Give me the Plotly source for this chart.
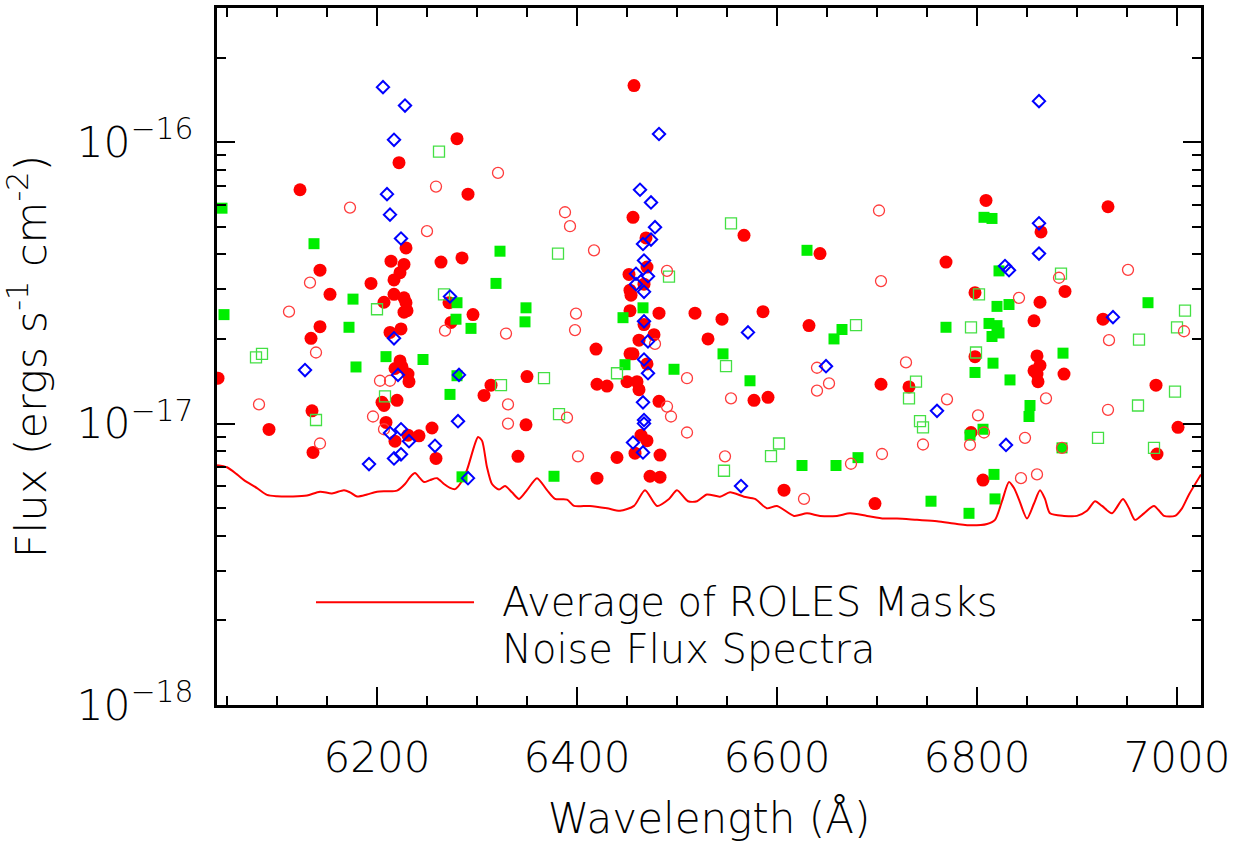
import numpy as np
import plotly.graph_objects as go

FLUX_UNIT = 1e-17  # flux values below are in units of 1e-17 ergs s^-1 cm^-2

# Average noise spectrum of the ROLES masks
spec_wl = [6040, 6050, 6060, 6067, 6080, 6090, 6100, 6116, 6130, 6143,
           6155, 6167, 6173, 6180, 6190, 6200, 6210, 6220, 6228, 6233,
           6238, 6243, 6247, 6253, 6260, 6267, 6273, 6278, 6283, 6290,
           6297, 6301, 6305, 6310, 6315, 6322, 6328, 6335, 6342, 6350,
           6360, 6370, 6378, 6390, 6397, 6413, 6430, 6443, 6457, 6468,
           6480, 6492, 6500, 6511, 6520, 6530, 6543, 6553, 6567, 6578,
           6590, 6600, 6617, 6630, 6643, 6660, 6673, 6690, 6707, 6720,
           6740, 6760, 6780, 6795, 6810, 6818, 6825, 6832, 6837, 6842,
           6850, 6857, 6863, 6868, 6873, 6887, 6900, 6910, 6918, 6925,
           6935, 6946, 6952, 6958, 6967, 6977, 6987, 6998, 7005, 7012,
           7024]
spec_flux = [0.712, 0.70, 0.66, 0.63, 0.59, 0.558, 0.552, 0.551, 0.555, 0.573,
             0.565, 0.58, 0.57, 0.551, 0.56, 0.573, 0.575, 0.578, 0.61, 0.645,
             0.667, 0.64, 0.62, 0.63, 0.64, 0.61, 0.591, 0.585, 0.61, 0.685,
             0.827, 0.897, 0.87, 0.70, 0.61, 0.583, 0.60, 0.57, 0.54, 0.58,
             0.64, 0.58, 0.54, 0.537, 0.51, 0.51, 0.50, 0.49, 0.51, 0.58,
             0.51, 0.54, 0.58, 0.53, 0.53, 0.56, 0.55, 0.57, 0.55, 0.54,
             0.50, 0.51, 0.47, 0.48, 0.47, 0.47, 0.48, 0.47, 0.46, 0.46,
             0.455, 0.45, 0.44, 0.435, 0.44, 0.455, 0.53, 0.62, 0.59, 0.537,
             0.46, 0.52, 0.58, 0.54, 0.48, 0.47, 0.47, 0.49, 0.53, 0.51,
             0.48, 0.54, 0.50, 0.455, 0.48, 0.51, 0.47, 0.47, 0.50, 0.56,
             0.66]

# Filled red circles
fc_wl = [6280, 6222, 6123, 6229, 6214, 6227, 6264, 6285, 6223, 6143,
         6194, 6217, 6153, 6217, 6227, 6229, 6230, 6227, 6207, 6272,
         6143, 6224, 6213, 6134, 6274, 6223, 6218, 6225, 6231, 6232,
         6041, 6220, 6205, 6207, 6135, 6209, 6092, 6231, 6242, 6255,
         6218, 6136, 6259,
         6457, 6291, 6456, 6469,
         6470, 6452, 6467, 6453, 6454, 6296, 6453, 6482, 6477, 6462,
         6419, 6453, 6456, 6470, 6350, 6314, 6307, 6420, 6430, 6450,
         6460, 6462, 6482, 6349, 6464, 6470, 6458, 6440, 6483, 6341,
         6420, 6473, 6483, 6467,
         6567, 6643, 6518, 6545, 6586, 6531, 6632, 6577, 6591, 6704,
         6732, 6607, 6698,
         6809, 6931, 6864, 6769, 6798, 6888, 6863, 6857, 6926, 6860,
         6798, 6863, 6857, 6860, 6861, 6887, 6979, 7001, 6794, 6980,
         6806]
fc_flux = [10.3, 8.46, 6.78, 4.21, 3.78, 3.68, 3.75, 3.88, 3.44, 3.51,
           3.15, 3.24, 2.88, 2.88, 2.80, 2.69, 2.52, 2.49, 2.70, 2.69,
           2.21, 2.17, 2.11, 2.01, 2.29, 1.67, 1.57, 1.59, 1.50, 1.41,
           1.45, 1.21, 1.19, 1.16, 1.11, 1.01, 0.954, 0.91, 0.905, 0.965,
           0.866, 0.79, 0.752,
           15.9, 6.54, 5.41, 4.57,
           3.60, 3.39, 3.13, 2.98, 2.86, 2.44, 2.52, 2.47, 2.07, 1.98,
           1.84, 1.77, 1.77, 1.63, 1.47, 1.37, 1.26, 1.38, 1.36, 1.41,
           1.41, 1.32, 1.20, 0.99, 0.91, 0.87, 0.785, 0.758, 0.773, 0.765,
           0.64, 0.65, 0.645, 2.25,
           4.67, 4.02, 2.47, 2.35, 2.50, 2.00, 2.23, 1.21, 1.24, 1.38,
           1.35, 0.58, 0.52,
           6.21, 5.90, 4.80, 3.75, 2.92, 2.95, 2.70, 2.32, 2.35, 1.74,
           1.73, 1.61, 1.54, 1.50, 1.41, 1.50, 1.37, 0.97, 0.93, 0.78,
           0.63]

# Open red circles
oc_wl = [6259, 6173, 6250,
         6133, 6112, 6268, 6139, 6203, 6213, 6082, 6196, 6207, 6143,
         6321, 6388, 6393, 6417,
         6490, 6329, 6399, 6398, 6478, 6510, 6490, 6494, 6331, 6331,
         6390, 6510, 6401,
         6702, 6704, 6640, 6729, 6652, 6640, 6554, 6746, 6548, 6674,
         6705, 6627,
         6882, 6951, 6842, 7007, 6932, 6770, 6869, 6931, 6801, 6807,
         6793, 6848, 6885, 6844, 6860]
oc_flux = [6.96, 5.86, 4.83,
           3.17, 2.50, 2.14, 1.79, 1.42, 1.42, 1.17, 1.06, 0.955, 0.85,
           7.78, 5.64, 5.03, 4.13,
           3.49, 2.09, 2.46, 2.15, 1.92, 1.45, 1.15, 1.06, 1.17, 1.00,
           1.05, 0.93, 0.765,
           5.72, 3.21, 1.58, 1.65, 1.39, 1.31, 1.23, 0.843, 0.765, 0.72,
           0.78, 0.54,
           3.30, 3.52, 2.80, 2.13, 1.98, 1.22, 1.23, 1.12, 1.07, 0.93,
           0.84, 0.89, 0.82, 0.64, 0.66]

# Filled green squares
fs_wl = [6045, 6137,
         6176, 6280, 6047, 6172, 6279, 6209, 6246, 6179, 6280, 6273,
         6323,
         6319, 6349, 6348, 6294, 6446, 6466, 6448, 6497, 6285, 6377,
         6630, 6665, 6657, 6546, 6573, 6625, 6659, 6681, 6754,
         6807, 6815, 6822, 6820, 6832, 6971, 6769, 6812, 6820, 6822,
         6815, 6886, 6816, 6798, 6833, 6853, 6852, 6806, 6793, 6885,
         6817, 6818, 6792]
fs_flux = [5.83, 4.36,
           2.77, 2.69, 2.44, 2.20, 2.35, 1.73, 1.69, 1.59, 1.48, 1.27,
           4.10,
           3.15, 2.58, 2.30, 2.18, 2.38, 2.58, 1.62, 1.56, 0.647, 0.65,
           4.13, 2.16, 2.00, 1.77, 1.42, 0.71, 0.71, 0.757, 0.53,
           5.41, 5.36, 3.49, 2.61, 2.65, 2.69, 2.20, 2.27, 2.23, 2.10,
           2.04, 1.78, 1.64, 1.52, 1.43, 1.16, 1.06, 0.955, 0.91, 0.82,
           0.66, 0.54, 0.48]

# Open green squares
os_wl = [6262,
         6200, 6267, 6085, 6079, 6208, 6139,
         6381,
         6492, 6440, 6367, 6324, 6382,
         6554, 6679, 6549, 6739, 6732, 6743, 6746, 6602, 6594, 6547,
         6884, 6802, 7008, 6794, 7000, 6962, 6799, 6998, 6961, 6921,
         6977]
os_flux = [9.26,
           2.55, 2.88, 1.77, 1.72, 1.25, 1.03,
           4.02,
           3.33, 1.51, 1.45, 1.37, 1.08,
           5.15, 2.24, 1.60, 1.41, 1.23, 1.02, 0.97, 0.85, 0.766, 0.68,
           3.41, 2.88, 2.52, 2.20, 2.20, 1.99, 1.79, 1.30, 1.16, 0.89,
           0.82]

# Open blue diamonds
od_wl = [6206, 6228, 6217, 6210, 6213, 6224,
         6273, 6217, 6221, 6128, 6282, 6281, 6213, 6224, 6232, 6258,
         6217, 6224, 6192,
         6482, 6463, 6474, 6478, 6474, 6466, 6467,
         6459, 6471, 6459, 6467, 6467, 6471, 6467, 6471, 6466, 6467,
         6467, 6456, 6466, 6291,
         6571, 6649, 6760, 6564,
         6862, 6862, 6862, 6828, 6832, 6936, 6829]
od_flux = [15.7, 13.5, 10.2, 6.54, 5.53, 4.55,
           2.83, 2.01, 1.49, 1.55, 1.49, 1.02, 0.926, 0.955, 0.866, 0.834,
           0.752, 0.778, 0.718,
           10.7, 6.78, 6.11, 4.99, 4.51, 4.35, 3.80,
           3.41, 3.34, 3.13, 2.94, 2.31, 1.96, 1.69, 1.51, 1.19, 1.03,
           1.00, 0.857, 0.79, 0.64,
           2.11, 1.60, 1.11, 0.60,
           14.0, 5.15, 4.02, 3.63, 3.51, 2.39, 0.84]

x_range = [6040, 7024]
y_range = [1e-18, 3e-16]
legend_lines = ["Average of ROLES Masks", "Noise Flux Spectra"]


def scale(v):
    return [f * FLUX_UNIT for f in v]


def font(size):
    return dict(family="DejaVu Sans", size=size, color="black", weight=200)


fig = go.Figure()
fig.add_trace(go.Scatter(x=spec_wl, y=scale(spec_flux), mode="lines",
                         line=dict(color="#ff0000", width=2, shape="spline", smoothing=0.7),
                         showlegend=False, hoverinfo="skip"))
fig.add_trace(go.Scatter(x=fc_wl, y=scale(fc_flux), mode="markers",
                         marker=dict(symbol="circle", size=13, color="#ff0000",
                                     line=dict(width=0)), showlegend=False))
fig.add_trace(go.Scatter(x=fs_wl, y=scale(fs_flux), mode="markers",
                         marker=dict(symbol="square", size=11, color="#00ee00",
                                     line=dict(width=0)), showlegend=False))
fig.add_trace(go.Scatter(x=os_wl, y=scale(os_flux), mode="markers",
                         marker=dict(symbol="square-open", size=11, color="#44e044",
                                     line=dict(width=1.3, color="#44e044")),
                         showlegend=False))
fig.add_trace(go.Scatter(x=oc_wl, y=scale(oc_flux), mode="markers",
                         marker=dict(symbol="circle-open", size=11, color="#ff3c3c",
                                     line=dict(width=1.3, color="#ff3c3c")),
                         showlegend=False))
fig.add_trace(go.Scatter(x=od_wl, y=scale(od_flux), mode="markers",
                         marker=dict(symbol="diamond-open", size=9.5, color="#0000ff",
                                     line=dict(width=2, color="#0000ff")),
                         showlegend=False))

axis_common = dict(
    showline=True, linecolor="black", linewidth=2.5, mirror="allticks",
    ticks="inside", ticklen=18, tickwidth=2, tickcolor="black",
    showgrid=False, zeroline=False,
)

fig.update_xaxes(
    range=x_range, tick0=6000, dtick=200,
    minor=dict(dtick=50, ticks="inside", ticklen=9, tickwidth=2, tickcolor="black",
               showgrid=False),
    tickfont=font(42),
    ticklabelstandoff=14,
    title=dict(text="Wavelength (Å)", font=font(42), standoff=26),
    **axis_common,
)
fig.update_yaxes(
    type="log", range=[np.log10(y_range[0]), np.log10(y_range[1])], dtick=1,
    exponentformat="power",
    minor=dict(dtick="D1", ticks="inside", ticklen=9, tickwidth=2, tickcolor="black",
               showgrid=False),
    tickfont=font(34),
    ticklabelstandoff=14,
    title=dict(text="Flux (ergs s<sup>-1</sup> cm<sup>-2</sup>)", font=font(43), standoff=40),
    **axis_common,
)

# legend drawn inside the plot area
fig.add_shape(type="line", xref="paper", yref="paper",
              x0=0.1006, x1=0.2612, y0=0.1475, y1=0.1475,
              line=dict(color="#ff0000", width=2))
fig.add_annotation(text=legend_lines[0], xref="paper", yref="paper",
                   x=0.2876, y=0.1475, xanchor="left", yanchor="middle",
                   showarrow=False, font=font(40))
fig.add_annotation(text=legend_lines[1], xref="paper", yref="paper",
                   x=0.2876, y=0.0800, xanchor="left", yanchor="middle",
                   showarrow=False, font=font(40))

fig.update_layout(
    width=1241, height=843,
    margin=dict(l=217, r=40, t=5, b=137),
    paper_bgcolor="white", plot_bgcolor="white",
    font=font(40),
)

fig.write_html("out.html")
